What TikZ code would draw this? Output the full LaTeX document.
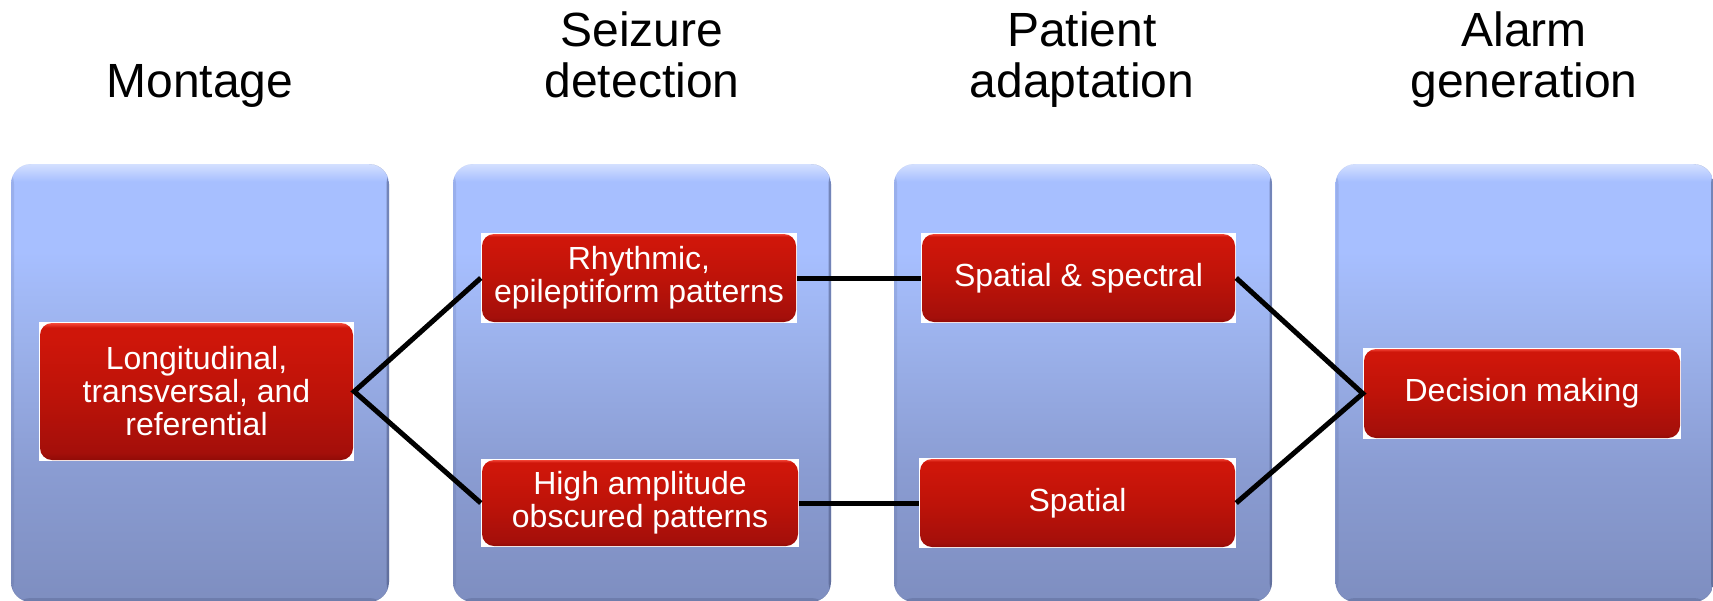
\documentclass[tikz,border=0pt]{standalone}
\usepackage{fontspec}
\setmainfont{Liberation Sans}
\definecolor{redbot}{HTML}{8E0B07}
\definecolor{redlow}{HTML}{A40F0A}
\definecolor{redmid}{HTML}{BE1309}
\definecolor{redtop}{HTML}{CF160A}
\definecolor{redhi}{HTML}{FF5545}
\definecolor{bluebot}{HTML}{7E8EC0}
\definecolor{bluelow}{HTML}{8A9CD2}
\definecolor{bluemid}{HTML}{9CB2EC}
\definecolor{bluetop}{HTML}{A7BFFF}
\definecolor{bluehi}{HTML}{D4E0FF}
\definecolor{blueedge}{HTML}{4A5680}
\pgfdeclareverticalshading{redsh}{100bp}{color(0bp)=(redbot); color(25bp)=(redbot); color(28bp)=(redlow); color(50bp)=(redmid); color(70bp)=(redtop); color(73bp)=(redtop); color(75bp)=(redhi); color(100bp)=(redhi)}
\pgfdeclareverticalshading{bluesh}{100bp}{color(0bp)=(bluebot); color(25bp)=(bluebot); color(40bp)=(bluelow); color(55bp)=(bluemid); color(65bp)=(bluetop); color(73bp)=(bluetop); color(75bp)=(bluehi); color(100bp)=(bluehi)}
\tikzset{
  colbox/.style={rectangle, minimum width=378pt, minimum height=438pt, inner sep=0pt,
    rounded corners=20pt, shading=bluesh,
    path picture={
      \fill[blueedge, opacity=0.55] ([xshift=-2.5pt]path picture bounding box.north east) rectangle (path picture bounding box.south east);
      \fill[blueedge, opacity=0.15] (path picture bounding box.north west) rectangle ([xshift=3pt]path picture bounding box.south west);
      \fill[blueedge, opacity=0.3] (path picture bounding box.south west) rectangle ([yshift=4pt]path picture bounding box.south east);}},
  redbox/.style={rectangle, fill=white, inner sep=0pt, text=white, align=center,
    font=\fontsize{32}{33}\selectfont,
    path picture={\shade[shading=redsh, rounded corners=12pt]
      ([xshift=1pt,yshift=1pt]path picture bounding box.south west) rectangle
      ([xshift=-1pt,yshift=-1pt]path picture bounding box.north east);}},
  title/.style={font=\fontsize{48}{51}\selectfont, align=center, inner sep=0pt, anchor=base},
  link/.style={line width=5pt, black}
}
\begin{document}
\begin{tikzpicture}[x=1pt,y=-1pt]
\useasboundingbox (0,0) rectangle (1713,600);
% titles
\node[title] (t1) at (200,97) {Montage};
\node[title] (t2) at (642,97) {Seizure\\detection};
\node[title] (t3) at (1082,97) {Patient\\adaptation};
\node[title] (t4) at (1524,97) {Alarm\\generation};
% columns
\node[colbox] (c1) at (200,383) {};
\node[colbox] (c2) at (642,383) {};
\node[colbox] (c3) at (1083,383) {};
\node[colbox] (c4) at (1524.5,383) {};
% red boxes
\node[redbox, minimum width=315pt, minimum height=139pt] (m1) at (196.5,391.5) {Longitudinal,\\transversal, and\\referential};
\node[redbox, minimum width=316pt, minimum height=90pt] (s1) at (639,278) {Rhythmic,\\epileptiform patterns};
\node[redbox, minimum width=318pt, minimum height=88pt] (s2) at (640,503) {High amplitude\\obscured patterns};
\node[redbox, minimum width=315pt, minimum height=90pt] (p1) at (1078.5,278) {Spatial \& spectral};
\node[redbox, minimum width=317pt, minimum height=90pt] (p2) at (1077.5,503) {Spatial};
\node[redbox, minimum width=318pt, minimum height=91pt] (a1) at (1522,393.5) {Decision making};
% connectors
\draw[link] (s1.west) -- (m1.east) -- (s2.west);
\draw[link] (s1.east) -- (p1.west);
\draw[link] (s2.east) -- (p2.west);
\draw[link] (p1.east) -- (a1.west) -- (p2.east);
\end{tikzpicture}
\end{document}
